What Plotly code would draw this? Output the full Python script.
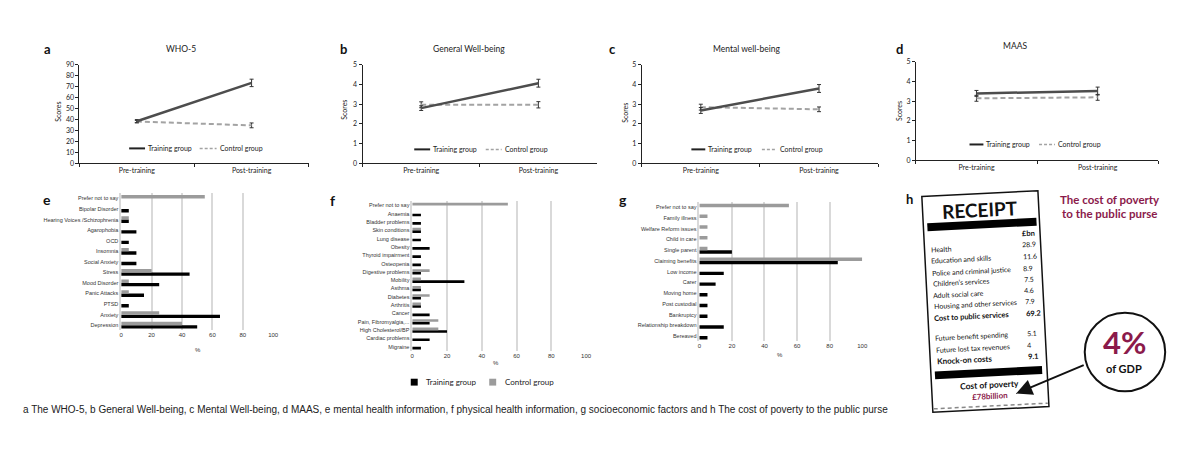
import math
import plotly.graph_objects as go

W, H = 1200, 449

# ---------------- data ----------------
time_points = ["Pre-training", "Post-training"]

who5_training = [38.3, 73.3]
who5_training_err = [1.5, 3.4]
who5_control = [38.0, 34.5]
who5_control_err = [1.0, 2.2]

gwb_training = [2.8, 4.07]
gwb_training_err = [0.12, 0.2]
gwb_control = [2.97, 2.97]
gwb_control_err = [0.15, 0.16]

mwb_training = [2.68, 3.8]
mwb_training_err = [0.15, 0.2]
mwb_control = [2.85, 2.74]
mwb_control_err = [0.15, 0.12]

maas_training = [3.4, 3.52]
maas_training_err = [0.15, 0.2]
maas_control = [3.15, 3.2]
maas_control_err = [0.15, 0.15]

mental_categories = ["Prefer not to say", "Bipolar Disorder", "Hearing Voices /Schizophrenia",
                     "Agarophobia", "OCD", "Insomnia", "Social Anxiety", "Stress",
                     "Mood Disorder", "Panic Attacks", "PTSD", "Anxiety", "Depression"]
mental_training = [0, 5, 5, 10, 5, 10, 10, 45, 25, 15, 5, 65, 50]
mental_control = [55, 0, 5, 0, 0, 5, 0, 20, 5, 5, 0, 25, 40]

physical_categories = ["Prefer not to say", "Anaemia", "Bladder problems", "Skin conditions",
                       "Lung disease", "Obesity", "Thyroid impairment", "Osteopenia",
                       "Digestive problems", "Mobility", "Asthma", "Diabetes", "Arthritis",
                       "Cancer", "Pain, Fibromyalgia,...", "High Cholesterol/BP",
                       "Cardiac problems", "Migraine"]
physical_training = [0, 5, 5, 5, 5, 10, 5, 5, 5, 30, 5, 5, 5, 10, 10, 20, 10, 5]
physical_control = [55, 0, 0, 5, 0, 0, 0, 0, 10, 5, 5, 10, 5, 0, 15, 15, 0, 0]

socio_categories = ["Prefer not to say", "Family illness", "Welfare Reform issues", "Child in care",
                    "Single parent", "Claiming benefits", "Low income", "Carer", "Moving home",
                    "Post custodial", "Bankruptcy", "Relationship breakdown", "Bereaved"]
socio_training = [0, 0, 0, 0, 20, 85, 15, 10, 5, 5, 5, 15, 5]
socio_control = [55, 5, 5, 5, 5, 100, 0, 0, 0, 0, 0, 0, 0]

receipt_items = ["Health", "Education and skills", "Police and criminal justice",
                 "Children’s services", "Adult social care", "Housing and other services"]
receipt_values = ["28.9", "11.6", "8.9", "7.5", "4.6", "7.9"]
public_total_label = "Cost to public services"
public_total_value = "69.2"
knock_items = ["Future benefit spending", "Future lost tax revenues"]
knock_values = ["5.1", "4"]
knock_total_label = "Knock-on costs"
knock_total_value = "9.1"
poverty_total = "£78billion"
gdp_share = "4%"

caption = ("a The WHO-5, b General Well-being, c Mental Well-being, d MAAS, e mental health information, "
           "f physical health information, g socioeconomic factors and h The cost of poverty to the public purse")

# ---------------- helpers ----------------
def px(x):
    return x / W


def py(y):
    return 1 - y / H


TRAIN_LINE = "#4d4d4d"
CTRL_LINE = "#a3a3a3"
TRAIN_BAR = "#000000"
CTRL_BAR = "#9b9b9b"
CRIMSON = "#8b1a4b"
GRID = "#d9d9d9"
FONT_TOP = "Lato"
FONT_BAR = "Liberation Sans"

fig = go.Figure()
layout = {}
shapes = []
annotations = []


def ann(x, y, text, size, color="#222", bold=False, xanchor="center", yanchor="middle",
        family=FONT_TOP, angle=0, pad=1):
    annotations.append(dict(
        x=px(x), y=py(y), xref="paper", yref="paper", showarrow=False,
        text=f"<b>{text}</b>" if bold else text, textangle=angle, borderpad=pad,
        font=dict(size=size, color=color, family=family),
        xanchor=xanchor, yanchor=yanchor))


# ---------------- line panels a-d ----------------
line_panels = [
    ("WHO-5", "a", who5_training, who5_training_err, who5_control, who5_control_err,
     (78, 309), (60.7, 161), [0, 90], 10, (180, 45), (56, 109),
     (128, 144, 199, 216, 146)),
    ("General Well-being", "b", gwb_training, gwb_training_err, gwb_control, gwb_control_err,
     (363, 599), (61, 161), [0, 5], 1, (470, 45), (344, 107),
     (415, 431, 487, 503, 147)),
    ("Mental well-being", "c", mwb_training, mwb_training_err, mwb_control, mwb_control_err,
     (644, 882), (61, 161), [0, 5], 1, (750, 45), (627, 110),
     (694, 708, 765, 780, 147)),
    ("MAAS", "d", maas_training, maas_training_err, maas_control, maas_control_err,
     (920, 1164), (58, 158), [0, 5], 1, (1020, 42), (903, 108),
     (974, 988, 1044, 1060, 142)),
]
letter_pos = {"a": (46, 44.5), "b": (344, 44.5), "c": (615, 44.5), "d": (904, 44.5)}

for i, (title, letter, tr, tr_e, ct, ct_e, xd, yd, yr, dt, tpos, spos, leg) in enumerate(line_panels, start=1):
    xa = "x" if i == 1 else f"x{i}"
    ya = "y" if i == 1 else f"y{i}"
    fig.add_trace(go.Scatter(
        x=time_points, y=ct, xaxis=xa, yaxis=ya, mode="lines",
        line=dict(color=CTRL_LINE, width=2, dash="5px,3px"),
        error_y=dict(type="data", array=ct_e, color="#333", thickness=1, width=2),
        name="Control group", showlegend=False))
    fig.add_trace(go.Scatter(
        x=time_points, y=tr, xaxis=xa, yaxis=ya, mode="lines",
        line=dict(color=TRAIN_LINE, width=2.5),
        error_y=dict(type="data", array=tr_e, color="#333", thickness=1, width=2),
        name="Training group", showlegend=False))
    kx = "xaxis" if i == 1 else f"xaxis{i}"
    ky = "yaxis" if i == 1 else f"yaxis{i}"
    layout[kx] = dict(domain=[px(xd[0]), px(xd[1])], anchor=ya, type="category",
                      range=[-0.5, 1.5], showline=True, linecolor="#222", linewidth=1,
                      ticks="outside", tickson="boundaries", ticklen=3, tickcolor="#222",
                      showgrid=False, zeroline=False,
                      tickfont=dict(size=7, family=FONT_TOP, color="#222"))
    layout[ky] = dict(domain=[py(yd[1]), py(yd[0])], anchor=xa, range=yr, dtick=dt,
                      showline=True, linecolor="#222", linewidth=1, ticks="outside",
                      ticklen=3, tickcolor="#222", showgrid=False, zeroline=False,
                      tickfont=dict(size=7, family=FONT_TOP, color="#222"))
    ann(tpos[0], tpos[1], title, 8.5)
    ann(spos[0], spos[1], "Scores", 7, angle=-90)
    lx = letter_pos[letter]
    ann(lx[0], lx[1], letter, 13, color="#111", bold=True)
    # manual legend
    t0, t1, c0, c1, ly = leg
    shapes.append(dict(type="line", xref="paper", yref="paper", x0=px(t0), x1=px(t1),
                       y0=py(ly), y1=py(ly), line=dict(color="#222", width=2)))
    ann(t1 + 1, ly, "Training group", 7, xanchor="left")
    shapes.append(dict(type="line", xref="paper", yref="paper", x0=px(c0), x1=px(c1),
                       y0=py(ly), y1=py(ly), line=dict(color=CTRL_LINE, width=1.5, dash="3px,2px")))
    ann(c1 + 1, ly, "Control group", 7, xanchor="left")

# ---------------- bar panels e-g ----------------
bar_panels = [
    ("e", mental_categories, mental_training, mental_control, (120, 273), (191.6, 331.4),
     (197, 351), (45, 198)),
    ("f", physical_categories, physical_training, physical_control, (413, 588), (199.8, 352.2),
     (497, 365), (333, 199)),
    ("g", socio_categories, socio_training, socio_control, (702, 866), (200.5, 342.5),
     (783, 356), (625, 198)),
]
for j, (letter, cats, tr, ct, xd, yd, pct, lpos) in enumerate(bar_panels, start=5):
    xa, ya = f"x{j}", f"y{j}"
    fig.add_trace(go.Bar(y=cats, x=tr, orientation="h", xaxis=xa, yaxis=ya,
                         marker=dict(color=TRAIN_BAR, line=dict(width=0)), name="Training group",
                         showlegend=False))
    fig.add_trace(go.Bar(y=cats, x=ct, orientation="h", xaxis=xa, yaxis=ya,
                         marker=dict(color=CTRL_BAR, line=dict(width=0)), name="Control group",
                         showlegend=False))
    layout[f"xaxis{j}"] = dict(domain=[px(xd[0]), px(xd[1])], anchor=ya, range=[0, 100], dtick=20,
                               showgrid=True, gridcolor=GRID, gridwidth=1.5, zeroline=False,
                               showline=False, ticks="",
                               tickfont=dict(size=6, family=FONT_BAR, color="#333"))
    layout[f"yaxis{j}"] = dict(domain=[py(yd[1]), py(yd[0])], anchor=xa, type="category",
                               categoryorder="array", categoryarray=list(reversed(cats)),
                               showline=True, linecolor=GRID, linewidth=1.5, ticks="",
                               showgrid=False, zeroline=False,
                               tickfont=dict(size=5.5, family=FONT_BAR, color="#333"))
    ann(pct[0], pct[1], "%", 6, color="#333", family=FONT_BAR)
    ann(lpos[0], lpos[1], letter, 14, color="#111", bold=True)

# bar legend (below panel f)
for (cx, col, label) in [(415, TRAIN_BAR, "Training group"), (494, CTRL_BAR, "Control group")]:
    shapes.append(dict(type="rect", xref="paper", yref="paper", x0=px(cx - 3.5), x1=px(cx + 3.5),
                       y0=py(387.5), y1=py(380.5), fillcolor=col, line=dict(width=0)))
    ann(cx + 10, 384, label, 8, xanchor="left")

# ---------------- panel h: receipt ----------------
ang = math.radians(2.9)
ca, sa = math.cos(ang), math.sin(ang)
RX0, RY0 = 926, 195


def T(u, v):
    return (RX0 + u * ca + v * sa, RY0 - u * sa + v * ca)


def poly(points):
    parts = []
    for k, (u, v) in enumerate(points):
        x, y = T(u, v)
        parts.append(("M" if k == 0 else "L") + f"{px(x):.5f},{py(y):.5f}")
    return " ".join(parts) + " Z"


shapes.append(dict(type="path", xref="paper", yref="paper",
                   path=poly([(0, 0), (117, 0), (117, 220), (0, 220)]),
                   line=dict(color="#111", width=1.5), fillcolor="white"))
shapes.append(dict(type="path", xref="paper", yref="paper",
                   path=poly([(4, 27.5), (114, 27.5), (114, 35.5), (4, 35.5)]),
                   line=dict(width=0), fillcolor="#000"))
shapes.append(dict(type="path", xref="paper", yref="paper",
                   path=poly([(4, 178.5), (112, 178.5), (112, 186.5), (4, 186.5)]),
                   line=dict(width=0), fillcolor="#000"))
d0 = T(1, 216.5)
d1 = T(116, 216.5)
shapes.append(dict(type="line", xref="paper", yref="paper", x0=px(d0[0]), y0=py(d0[1]),
                   x1=px(d1[0]), y1=py(d1[1]), line=dict(color="#888", width=1.5, dash="4px,3px")))

RANG = -2.9


def rtext_left(u, v, text, size, bold=False, color="#111", est_w=None):
    if est_w is None:
        est_w = len(text) * size * 0.47
    x, _ = T(u, v)
    _, yc = T(u + est_w / 2, v)
    ann(x, yc, text, size, color=color, bold=bold, xanchor="left", angle=RANG)


def rtext_center(u, v, text, size, bold=False, color="#111"):
    x, y = T(u, v)
    ann(x, y, text, size, color=color, bold=bold, xanchor="center", angle=RANG)


rtext_center(58.3, 16, "RECEIPT", 19, bold=True)
rtext_left(96.5, 43.3, "£bn", 7.5, bold=True)
item_rows = [54, 65.6, 78, 89.3, 100.5, 112]
for v, lab, val in zip(item_rows, receipt_items, receipt_values):
    rtext_left(4, v, lab, 7)
    rtext_left(96, v, val, 7)
rtext_left(4, 124.4, public_total_label, 7.5, bold=True)
rtext_left(96, 124.4, public_total_value, 7.5, bold=True)
for v, lab, val in zip([144.7, 156.6], knock_items, knock_values):
    rtext_left(4, v, lab, 7)
    rtext_left(96, v, val, 7)
rtext_left(4, 168.3, knock_total_label, 8, bold=True)
rtext_left(96, 168.3, knock_total_value, 7.5, bold=True)
rtext_center(58.2, 194.9, "Cost of poverty", 8.5, bold=True)
rtext_center(58.6, 206.5, poverty_total, 8, bold=True, color=CRIMSON)

ann(914, 198, "h", 13, color="#111", bold=True)
ann(1115, 198, "The cost of poverty", 11.5, color=CRIMSON, bold=True)
ann(1115, 212.5, "to the public purse", 11.5, color=CRIMSON, bold=True)

shapes.append(dict(type="circle", xref="paper", yref="paper", x0=px(1090), x1=px(1171),
                   y0=py(393.3), y1=py(313.3), line=dict(color="#111", width=2)))
ann(1130.5, 343.5, gdp_share, 31, color=CRIMSON, bold=True, pad=0)
ann(1130, 370.5, "of GDP", 11, color="#111", bold=True, pad=0)
annotations.append(dict(x=px(1021), y=py(395.5), xref="paper", yref="paper", text="",
                        showarrow=True, ax=69, ay=-29, arrowhead=2, arrowsize=1.6,
                        arrowwidth=2, arrowcolor="#111", standoff=0))

# ---------------- caption ----------------
ann(19, 412, caption, 10, color="#222", xanchor="left", family=FONT_BAR)

fig.update_layout(
    width=W, height=H, margin=dict(l=0, r=0, t=0, b=0),
    paper_bgcolor="white", plot_bgcolor="white", showlegend=False,
    barmode="group", bargap=0.36, bargroupgap=0,
    shapes=shapes, annotations=annotations, **layout)

fig.write_html("out.html", config={"displayModeBar": False},
               post_script="document.body.style.margin='0';")
